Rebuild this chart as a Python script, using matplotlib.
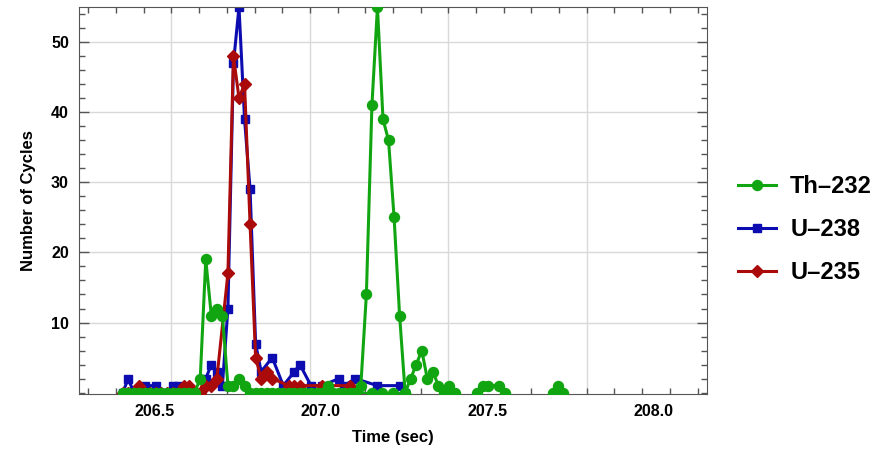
import numpy as np
import matplotlib.pyplot as plt
from matplotlib.ticker import MultipleLocator

plt.rcParams['font.family'] = ['Liberation Sans', 'DejaVu Sans']
plt.rcParams['font.weight'] = 'bold'

nan = np.nan

# Th-232 counts (gaps = no samples)
th_time = [206.324, 206.344, 206.364, 206.384, 206.404, 206.424, 206.444, 206.464,
           206.484, 206.504, 206.524, 206.544, 206.564, 206.584, 206.604, 206.624,
           206.644, 206.664, 206.684, 206.704, 206.724, 206.744, 206.764, 206.784,
           206.804, 206.824, 206.844, 206.864, 206.884, 206.904, 206.924, 206.944,
           206.964, 206.984, 207.004, 207.024, 207.044, 207.064, 207.084, 207.104,
           207.124, 207.144, 207.164, 207.184, 207.204, 207.224, 207.244, 207.264,
           207.284, 207.304, 207.324, 207.344, 207.364, 207.384, 207.404, 207.424,
           207.444, 207.464, 207.484, 207.504, 207.524, 207.564,
           207.604, 207.624, 207.644, 207.684, 207.704, 207.79,
           207.878, 207.896, 207.914]
th_count = [0, 0, 0, 0, 0, 0, 0, 0,
            0, 0, 0, 0, 0, 0, 2, 19,
            11, 12, 11, 1, 1, 2, 1, 0,
            0, 0, 0, 0, 0, 0, 0, 0,
            0, 0, 0, 0, 0, 1, 0, 0,
            0, 0, 0, 1, 14, 41, 55, 39,
            36, 25, 11, 0, 2, 4, 6, 2,
            3, 1, 0, 1, 0, nan,
            0, 1, 1, 1, 0, nan,
            0, 1, 0]
# Th-232 zero readings lying under the main peak
th_floor_time = [207.164, 207.223, 207.259, 207.301, 207.344]
th_floor_count = [0, 0, 0, 0, 0]

# U-238 counts
u238_time = [206.324, 206.344, 206.364, 206.384, 206.404, 206.444, 206.464, 206.484,
             206.504, 206.524, 206.544, 206.564, 206.584, 206.604, 206.624, 206.644,
             206.664, 206.684, 206.704, 206.724, 206.744, 206.764, 206.784, 206.804,
             206.824, 206.864, 206.904, 206.944, 206.964, 207.004, 207.044, 207.104,
             207.124, 207.164, 207.244, 207.324, 207.344]
u238_count = [0, 2, 0, 0, 1, 1, 0, 0,
              1, 1, 0, 0, 0, 0, 2, 4,
              3, 1, 12, 47, 55, 39, 29, 7,
              3, 5, 1, 3, 4, 1, 1, 2,
              1, 2, 1, 1, 0]

# U-235 counts
u235_time = [206.324, 206.344, 206.364, 206.384, 206.404, 206.424, 206.444, 206.464,
             206.484, 206.504, 206.524, 206.544, 206.564, 206.584, 206.604, 206.624,
             206.644, 206.664, 206.704, 206.724, 206.744, 206.764, 206.784, 206.804,
             206.824, 206.844, 206.864, 206.924, 206.944, 206.964, 207.044, 207.144,
             207.164]
u235_count = [0, 0, 0, 1, 0, 0, 0, 0,
              0, 0, 0, 1, 1, 0, 0, 1,
              1, 2, 17, 48, 42, 44, 24, 5,
              2, 3, 2, 1, 1, 1, 1, 1,
              0]

xtick_pos = [206.44, 207.04, 207.643, 208.242]
xtick_labels = ['206.5', '207.0', '207.5', '208.0']
xgrid = [206.5, 207.0, 207.5, 208.0]

green = '#12a512'
blue = '#0c0cb0'
red = '#ab0a0a'

fig = plt.figure(figsize=(8.94, 4.55), dpi=100)
ax = fig.add_axes([0.0880, 0.1332, 0.7028, 0.8521])

for g in xgrid:
    ax.axvline(g, color='#d9d9d9', lw=1.0, zorder=0)
for g in [10, 20, 30, 40, 50]:
    ax.axhline(g, color='#d9d9d9', lw=1.0, zorder=0)

ax.plot(u238_time, u238_count, color=blue, lw=2.2, marker='s', ms=5.5, zorder=2, label='U\u2013238')
ax.plot(u235_time, u235_count, color=red, lw=2.2, marker='D', ms=6.5, zorder=3, label='U\u2013235')
ax.plot(th_floor_time, th_floor_count, color=green, lw=2.2, marker='o', ms=7.2, zorder=4)
ax.plot(th_time, th_count, color=green, lw=2.2, marker='o', ms=7.2, zorder=4, label='Th\u2013232')

ax.set_xlim(206.165, 208.434)
ax.set_ylim(-0.25, 55.05)

ax.set_xticks(xtick_pos, xtick_labels)
ax.xaxis.set_minor_locator(MultipleLocator(0.1))
ax.set_yticks([10, 20, 30, 40, 50])
ax.yaxis.set_minor_locator(MultipleLocator(2))
ax.tick_params(axis='x', which='major', length=0, pad=7, labelsize=11.5)
ax.tick_params(axis='y', which='major', length=7, labelsize=11.5, pad=7)
ax.tick_params(which='both', direction='in', top=True, right=True, color='#555555', width=1)
ax.tick_params(which='minor', length=4)
for s in ax.spines.values():
    s.set_color('#555555')

ax.set_xlabel('Time (sec)', fontsize=12, fontweight='bold', labelpad=8)
ax.set_ylabel('Number of Cycles', fontsize=12, fontweight='bold', labelpad=11)

h, l = ax.get_legend_handles_labels()
order = [2, 0, 1]
ax.legend([h[i] for i in order], [l[i] for i in order], loc='center left',
          bbox_to_anchor=(0.802, 0.495), bbox_transform=fig.transFigure,
          frameon=False, handlelength=1.6, handletextpad=0.6,
          labelspacing=0.85, prop={'weight': 'bold', 'size': 17})

fig.savefig('out.png', dpi=100)
